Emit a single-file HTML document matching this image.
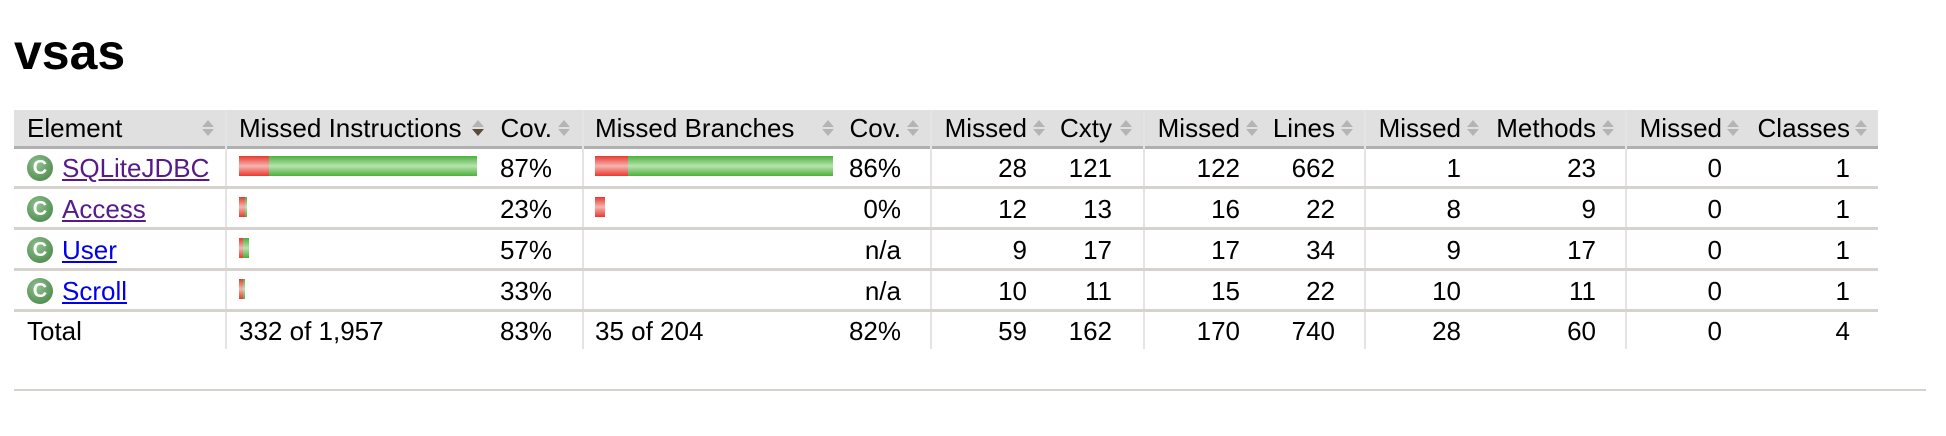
<!DOCTYPE html>
<html><head><meta charset="utf-8">
<style>
html,body{margin:0;padding:0;background:#fff;}
body{width:1946px;height:436px;position:relative;overflow:hidden;font-family:"Liberation Sans",Arial,sans-serif;color:#000;}
.a{position:absolute;white-space:nowrap;}
.t{font-size:26px;line-height:30px;}
.r{text-align:right;}
.sort{position:absolute;width:12px;height:16px;}
.sort:before{content:"";position:absolute;left:0;top:0;border-left:6px solid transparent;border-right:6px solid transparent;border-bottom:7px solid #b4b4b4;}
.sort:after{content:"";position:absolute;left:0;top:9px;border-left:6px solid transparent;border-right:6px solid transparent;border-top:7px solid #b4b4b4;}
.sort.down:after{border-top-color:#5a4a3a;}
.vd{position:absolute;top:110px;width:2px;height:239px;background:#e4e4e4;}
.hl{position:absolute;left:14px;width:1864px;height:3px;background:#d6d3ce;}
.icon{position:absolute;left:27px;width:26px;height:26px;border-radius:50%;background:radial-gradient(circle at 40% 35%,#8fc08f,#3f7f3f);color:#fff;font-weight:bold;font-size:20px;line-height:26px;text-align:center;}
a{text-decoration:underline;}
.bar{position:absolute;height:20px;}
.red{background:linear-gradient(#e8392f,#f6b4b0 50%,#e8392f);}
.green{background:linear-gradient(#4caf3c,#b6e4ad 50%,#4caf3c);}
</style></head>
<body>
<div class="a" style="left:14px;top:24px;font-size:50px;font-weight:bold;line-height:56px;">vsas</div>

<div class="a" style="left:14px;top:110px;width:1864px;height:36px;background:#e0e0e0;"></div>
<div class="a" style="left:14px;top:146px;width:1864px;height:3px;background:#b0b0b0;"></div>

<div class="vd" style="left:225px"></div>
<div class="vd" style="left:582px"></div>
<div class="vd" style="left:930px"></div>
<div class="vd" style="left:1143px"></div>
<div class="vd" style="left:1364px"></div>
<div class="vd" style="left:1625px"></div>

<div class="hl" style="top:186px"></div>
<div class="hl" style="top:227px"></div>
<div class="hl" style="top:268px"></div>
<div class="hl" style="top:309px"></div>

<div class="a t" style="left:27px;top:113px;">Element</div>
<div class="sort" style="left:202px;top:120px"></div>
<div class="a t" style="left:239px;top:113px;">Missed Instructions</div>
<div class="sort down" style="left:472px;top:120px"></div>
<div class="a t r" style="right:1394px;top:113px;">Cov.</div>
<div class="sort" style="left:558px;top:120px"></div>
<div class="a t" style="left:595px;top:113px;">Missed Branches</div>
<div class="sort" style="left:822px;top:120px"></div>
<div class="a t r" style="right:1045px;top:113px;">Cov.</div>
<div class="sort" style="left:907px;top:120px"></div>
<div class="a t r" style="right:919px;top:113px;">Missed</div>
<div class="sort" style="left:1033px;top:120px"></div>
<div class="a t r" style="right:834px;top:113px;">Cxty</div>
<div class="sort" style="left:1120px;top:120px"></div>
<div class="a t r" style="right:706px;top:113px;">Missed</div>
<div class="sort" style="left:1246px;top:120px"></div>
<div class="a t r" style="right:611px;top:113px;">Lines</div>
<div class="sort" style="left:1341px;top:120px"></div>
<div class="a t r" style="right:485px;top:113px;">Missed</div>
<div class="sort" style="left:1467px;top:120px"></div>
<div class="a t r" style="right:350px;top:113px;">Methods</div>
<div class="sort" style="left:1602px;top:120px"></div>
<div class="a t r" style="right:224px;top:113px;">Missed</div>
<div class="sort" style="left:1727px;top:120px"></div>
<div class="a t r" style="right:96px;top:113px;">Classes</div>
<div class="sort" style="left:1855px;top:120px"></div>

<div id="rows"></div>

<div class="a" style="left:14px;top:389px;width:1912px;height:2px;background:#d6d3ce;"></div>

<script>
const classNames = ["SQLiteJDBC","Access","User","Scroll"];
const linkColors = ["#551a8b","#551a8b","#0000ee","#0000ee"];
const instrMissed = [224,46,32,30];
const instrCovered = [1554,14,43,15];
const branchMissed = [27,8,0,0];
const branchCovered = [169,0,0,0];
const instrCov = ["87%","23%","57%","33%"];
const branchCov = ["86%","0%","n/a","n/a"];
const cxtyMissed = [28,12,9,10];
const cxty = [121,13,17,11];
const linesMissed = [122,16,17,15];
const lines = [662,22,34,22];
const methodsMissed = [1,8,9,10];
const methods = [23,9,17,11];
const classesMissed = [0,0,0,0];
const classes = [1,1,1,1];
const totals = ["Total","332 of 1,957","83%","35 of 204","82%","59","162","170","740","28","60","0","4"];

const body = document.getElementById('rows');
const rowTop = [149,190,231,272];
const barMax = 238;
const maxInstr = Math.max(...instrMissed.map((m,i)=>m+instrCovered[i]));
const maxBranch = Math.max(...branchMissed.map((m,i)=>m+branchCovered[i]));
function txt(s,left,right,top,name){
  const d=document.createElement('div');
  d.className='a t'+(right!==null?' r':'');
  if(left!==null)d.style.left=left+'px';
  if(right!==null)d.style.right=(1946-right)+'px';
  d.style.top=top+'px';
  d.textContent=s;
  
  
  body.appendChild(d);return d;
}
function bar(x,w,top,cls,name){
  if(w<=0)return;
  const b=document.createElement('div');
  b.className='bar '+cls;
  b.style.left=x+'px';b.style.width=w+'px';b.style.top=top+'px';
  
  
  body.appendChild(b);
}
classNames.forEach((n,i)=>{
  const t=rowTop[i];
  const ic=document.createElement('div');
  ic.className='icon';ic.textContent='C';ic.style.top=(t+6)+'px';
  
  
  body.appendChild(ic);
  const a=document.createElement('a');
  a.className='a t';a.href='#';a.textContent=n;
  a.style.left='62px';a.style.top=(t+4)+'px';a.style.color=linkColors[i];
  
  
  body.appendChild(a);
  const rm=Math.round(instrMissed[i]/maxInstr*barMax), rc=Math.round(instrCovered[i]/maxInstr*barMax);
  bar(239,rm,t+7,'red','instr-missed-bar');
  bar(239+rm,rc,t+7,'green','instr-covered-bar');
  const bm=Math.round(branchMissed[i]/maxBranch*barMax), bc=Math.round(branchCovered[i]/maxBranch*barMax);
  bar(595,bm,t+7,'red','branch-missed-bar');
  bar(595+bm,bc,t+7,'green','branch-covered-bar');
  txt(instrCov[i],null,552,t+4,'instr-cov-value');
  txt(branchCov[i],null,901,t+4,'branch-cov-value');
  txt(String(cxtyMissed[i]),null,1027,t+4,'cxty-missed-value');
  txt(String(cxty[i]),null,1112,t+4,'cxty-value');
  txt(String(linesMissed[i]),null,1240,t+4,'lines-missed-value');
  txt(String(lines[i]),null,1335,t+4,'lines-value');
  txt(String(methodsMissed[i]),null,1461,t+4,'methods-missed-value');
  txt(String(methods[i]),null,1596,t+4,'methods-value');
  txt(String(classesMissed[i]),null,1722,t+4,'classes-missed-value');
  txt(String(classes[i]),null,1850,t+4,'classes-value');
});
const tt=316;
txt(totals[0],27,null,tt,'total-label');
txt(totals[1],239,null,tt,'total-instructions');
txt(totals[2],null,552,tt,'total-instr-cov');
txt(totals[3],595,null,tt,'total-branches');
txt(totals[4],null,901,tt,'total-branch-cov');
const rights=[1027,1112,1240,1335,1461,1596,1722,1850];
const tnames=['total-cxty-missed','total-cxty','total-lines-missed','total-lines','total-methods-missed','total-methods','total-classes-missed','total-classes'];
rights.forEach((r,k)=>txt(totals[5+k],null,r,tt,tnames[k]));
</script>
</body></html>
